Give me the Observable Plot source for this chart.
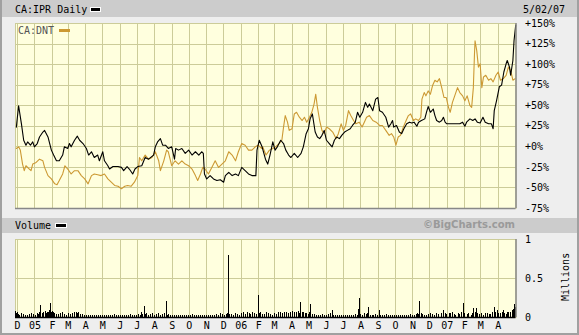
<!DOCTYPE html>
<html><head><meta charset="utf-8">
<script src="https://cdn.jsdelivr.net/npm/d3@7"></script>
<script src="https://cdn.jsdelivr.net/npm/@observablehq/plot@0.6"></script>
<style>
body{margin:0;background:#fff;}
#wrap{position:relative;width:579px;height:335px;background:#eeeeee;overflow:hidden;font-family:"DejaVu Sans Mono",monospace;font-size:10px;color:#000;}
.bar{position:absolute;background:#cccccc;}
.t{position:absolute;white-space:nowrap;line-height:1;z-index:5;}
.sw{position:absolute;z-index:5;}
#wrap svg{position:absolute;left:0;top:0;}
#edge{position:absolute;left:0;top:0;width:575px;height:333px;border-left:2px solid #a0a0a0;border-right:2px solid #a0a0a0;border-bottom:2px solid #a0a0a0;z-index:6;}
</style></head><body>
<div id="wrap">
  <div class="bar" style="left:0;top:0;width:579px;height:17px"></div>
  <div class="bar" style="left:2px;top:218px;width:575px;height:15px"></div>
  <div class="t" id="ttl" style="left:15px;top:5px"></div>
  <div class="sw" style="left:90px;top:7px;width:9px;height:3px;background:#000;border:1px solid #fff"></div>
  <div class="t" id="dateLbl" style="left:523px;top:5px"></div>
  <div class="t" id="dntLbl" style="left:18px;top:26px;color:#555"></div>
  <div class="sw" style="left:59px;top:29px;width:11px;height:3px;background:#cc9933"></div>
  <div class="t" id="volLbl" style="left:15px;top:221px"></div>
  <div class="sw" style="left:55px;top:223px;width:10px;height:3px;background:#000;border:1px solid #fff"></div>
  <div class="t" id="credit" style="right:64px;top:220px;font-family:'DejaVu Sans',sans-serif;font-weight:bold;color:#9a9a9a;font-size:10px"></div>
  <div class="t" id="mil" style="left:542px;top:272px;width:48px;text-align:center;transform:rotate(-90deg)"></div>
  <div id="edge"></div>
</div>
<script>
// ---- data (day offsets from 2004-12-01, percent change) ----
const seriesNames = ["CA:IPR Daily", "CA:DNT"];
const iprSeries = [[-2,24],[2,50],[7,28],[11,8],[15,2],[18,6],[23,2],[27,6],[30,0],[35,4],[39,12],[45,18],[48,20],[54,12],[60,-4],[64,-10],[69,-17],[74,-17],[80,-10],[83,0],[89,-2],[92,4],[95,0],[101,8],[106,13],[110,8],[116,4],[122,-2],[126,-10],[131,-6],[136,-13],[142,-10],[145,-17],[151,-6],[154,-17],[160,-23],[163,-27],[169,-24],[178,-24],[184,-25],[188,-29],[194,-24],[198,-27],[204,-33],[208,-27],[213,-24],[220,-23],[226,-13],[232,-15],[241,-10],[244,0],[248,6],[253,10],[257,2],[262,2],[267,-2],[273,0],[278,-15],[280,-2],[285,-4],[291,-2],[297,-8],[303,-4],[309,-10],[315,-6],[321,-10],[326,-6],[329,-8],[331,-33],[335,-39],[341,-35],[347,-39],[353,-41],[359,-40],[365,-43],[368,-35],[374,-31],[380,-35],[386,-33],[391,-35],[397,-25],[403,-29],[409,-33],[415,-35],[422,-35],[424,-4],[428,8],[433,0],[439,-15],[443,-21],[447,-10],[452,6],[456,-4],[460,0],[466,8],[471,4],[475,-4],[480,-10],[484,-13],[490,-8],[496,-13],[502,-8],[506,0],[511,16],[515,22],[518,34],[522,40],[527,18],[531,12],[535,10],[539,14],[543,20],[547,8],[552,4],[557,0],[561,8],[565,12],[570,10],[574,14],[579,18],[584,20],[589,22],[593,26],[598,30],[602,42],[606,36],[611,42],[616,54],[620,48],[623,52],[629,44],[634,58],[638,60],[641,44],[646,42],[652,36],[657,24],[661,28],[664,32],[666,24],[671,26],[676,18],[680,16],[684,22],[689,28],[694,30],[698,29],[702,30],[707,25],[710,30],[715,32],[721,34],[724,42],[727,49],[731,42],[736,46],[739,38],[742,32],[747,30],[751,32],[754,36],[757,30],[760,28],[766,28],[772,28],[777,28],[783,28],[788,30],[792,25],[795,30],[801,34],[806,32],[810,34],[814,30],[819,29],[824,36],[828,30],[834,28],[839,28],[842,22],[844,44],[848,56],[853,73],[857,75],[861,91],[865,101],[867,105],[871,97],[873,87],[877,105],[879,129],[882,148]];
const dntSeries = [[-2,-2],[2,0],[5,-4],[9,-21],[12,-29],[15,-23],[21,-27],[24,-29],[27,-21],[33,-19],[39,-15],[45,-17],[48,-25],[54,-35],[60,-39],[66,-45],[70,-46],[74,-41],[80,-33],[84,-23],[89,-27],[95,-33],[101,-29],[107,-29],[113,-35],[119,-39],[125,-45],[131,-35],[136,-33],[142,-34],[148,-35],[154,-33],[160,-39],[166,-43],[172,-47],[178,-48],[184,-51],[190,-48],[195,-47],[201,-48],[207,-43],[213,-35],[216,-13],[220,-17],[226,-10],[232,-15],[238,-13],[244,-6],[250,-17],[253,-29],[259,-17],[264,-4],[267,-6],[273,-23],[279,-17],[285,-21],[291,-17],[297,-21],[303,-23],[309,-27],[315,-35],[319,-41],[324,-33],[328,-25],[332,-27],[338,-33],[344,-25],[350,-17],[356,-25],[362,-21],[368,-17],[374,-6],[380,-10],[386,-17],[391,-6],[397,4],[403,2],[409,-4],[415,-4],[421,0],[426,2],[432,-2],[434,0],[440,-10],[446,-4],[452,-2],[457,0],[463,4],[468,8],[471,24],[474,38],[478,30],[481,20],[486,22],[490,40],[494,42],[499,36],[504,32],[508,36],[512,30],[517,36],[521,42],[525,52],[528,64],[531,48],[535,32],[539,20],[543,16],[547,24],[552,22],[558,18],[564,10],[568,16],[573,28],[577,20],[581,26],[586,44],[590,38],[595,32],[599,28],[605,30],[610,24],[614,30],[618,36],[623,38],[629,32],[635,30],[641,26],[646,26],[652,20],[658,14],[662,16],[666,12],[670,2],[674,12],[678,14],[683,24],[688,32],[692,38],[696,40],[701,32],[705,34],[710,32],[714,36],[716,58],[720,66],[723,62],[727,68],[731,64],[735,75],[739,81],[743,79],[747,83],[751,72],[755,60],[759,60],[763,48],[766,42],[770,54],[774,62],[779,72],[783,66],[788,62],[792,56],[796,62],[801,50],[804,48],[807,72],[809,113],[810,129],[813,117],[816,97],[819,101],[822,72],[825,85],[829,87],[834,81],[838,83],[842,79],[847,87],[851,91],[855,81],[860,83],[865,87],[869,97],[873,93],[877,81],[881,83]];
// volume in millions
const volSeries = [[-3,0.08],[-1,0.05],[0,0.06],[2,0.04],[4,0.03],[7,0.05],[11,0.04],[14,0.03],[18,0.03],[21,0.04],[25,0.05],[28,0.04],[32,0.03],[35,0.05],[37,0.04],[39,0.06],[41,0.16],[44,0.05],[46,0.06],[49,0.08],[51,0.05],[53,0.06],[55,0.07],[57,0.09],[58,0.18],[60,0.07],[62,0.08],[64,0.06],[66,0.05],[69,0.04],[73,0.04],[76,0.05],[80,0.06],[83,0.04],[87,0.03],[90,0.05],[94,0.04],[97,0.05],[101,0.06],[104,0.07],[106,0.05],[108,0.06],[111,0.04],[115,0.04],[118,0.03],[122,0.03],[125,0.02],[129,0.02],[132,0.03],[136,0.03],[140,0.02],[143,0.02],[147,0.03],[151,0.03],[154,0.02],[158,0.02],[161,0.03],[165,0.03],[168,0.02],[172,0.04],[175,0.03],[179,0.03],[182,0.02],[186,0.02],[189,0.03],[193,0.03],[196,0.02],[200,0.04],[203,0.03],[207,0.03],[210,0.02],[214,0.04],[217,0.03],[220,0.06],[222,0.04],[224,0.14],[226,0.04],[228,0.05],[232,0.03],[236,0.04],[239,0.05],[243,0.03],[246,0.04],[250,0.05],[253,0.03],[257,0.04],[260,0.05],[263,0.21],[265,0.03],[267,0.04],[271,0.02],[275,0.03],[278,0.02],[282,0.02],[285,0.03],[289,0.03],[292,0.02],[296,0.02],[299,0.03],[303,0.03],[306,0.02],[310,0.04],[313,0.03],[317,0.02],[320,0.03],[324,0.03],[327,0.02],[331,0.02],[334,0.03],[338,0.03],[341,0.02],[345,0.02],[348,0.03],[352,0.04],[356,0.03],[360,0.05],[363,0.04],[367,0.03],[370,0.04],[372,0.05],[374,0.80],[376,0.04],[379,0.04],[382,0.03],[386,0.05],[389,0.04],[393,0.03],[396,0.05],[400,0.06],[403,0.04],[407,0.07],[410,0.05],[413,0.04],[416,0.06],[420,0.05],[423,0.04],[426,0.28],[428,0.05],[430,0.06],[433,0.04],[437,0.04],[441,0.06],[445,0.05],[448,0.04],[452,0.03],[455,0.05],[459,0.04],[462,0.06],[466,0.06],[469,0.05],[473,0.07],[476,0.06],[480,0.05],[483,0.07],[487,0.08],[490,0.06],[494,0.06],[497,0.08],[499,0.05],[501,0.19],[504,0.06],[507,0.07],[509,0.05],[512,0.05],[515,0.04],[517,0.06],[519,0.17],[522,0.04],[526,0.04],[529,0.03],[533,0.03],[536,0.02],[540,0.04],[543,0.02],[547,0.03],[550,0.04],[554,0.05],[557,0.09],[560,0.03],[563,0.03],[566,0.02],[570,0.02],[573,0.03],[577,0.03],[580,0.02],[584,0.02],[588,0.03],[592,0.03],[595,0.02],[599,0.04],[602,0.03],[604,0.10],[606,0.24],[608,0.04],[611,0.03],[614,0.05],[618,0.04],[620,0.05],[622,0.13],[625,0.03],[629,0.03],[631,0.02],[634,0.04],[637,0.03],[640,0.09],[643,0.03],[646,0.02],[650,0.03],[653,0.04],[657,0.03],[661,0.02],[664,0.03],[668,0.03],[671,0.02],[675,0.02],[678,0.03],[682,0.03],[685,0.02],[689,0.02],[692,0.03],[696,0.04],[699,0.03],[703,0.03],[706,0.04],[708,0.05],[710,0.04],[712,0.21],[715,0.05],[717,0.04],[720,0.03],[724,0.03],[727,0.04],[731,0.05],[735,0.04],[739,0.03],[742,0.05],[746,0.04],[750,0.05],[754,0.09],[757,0.05],[760,0.04],[764,0.05],[767,0.05],[770,0.06],[773,0.04],[776,0.03],[780,0.05],[783,0.04],[786,0.06],[789,0.18],[792,0.05],[796,0.04],[799,0.05],[803,0.03],[805,0.05],[807,0.12],[810,0.06],[813,0.12],[815,0.05],[818,0.04],[821,0.05],[825,0.03],[828,0.05],[832,0.05],[835,0.04],[838,0.04],[841,0.06],[845,0.13],[847,0.06],[850,0.09],[852,0.05],[855,0.05],[858,0.06],[861,0.09],[863,0.05],[866,0.04],[868,0.06],[870,0.07],[873,0.06],[876,0.09],[878,0.1],[879,0.17],[880,0.11],[881,0.13]];
const pctTicks = [-75,-50,-25,0,25,50,75,100,125,150];
const volTicks = [0, 0.5, 1];
const monthLetters = ["J","F","M","A","M","J","J","A","S","O","N","D"];
const dateLabel = "5/02/07";
const creditText = "\u00a9BigCharts.com";
const volumeLabel = "Volume";
const unitLabel = "Millions";

// ---- build ----
const base = Date.UTC(2004, 11, 1);
const toDate = d => new Date(base + d * 864e5);
const ipr = iprSeries.map(([d, v]) => ({date: toDate(d), pct: v}));
const dnt = dntSeries.map(([d, v]) => ({date: toDate(d), pct: v}));
const vol = volSeries.map(([d, v]) => ({date: toDate(d), v}));
const xDomain = [new Date("2004-11-27T12:00Z"), new Date("2007-05-02T12:00Z")];
const months = d3.utcMonth.range(new Date("2004-12-01T00:00Z"), new Date("2007-04-15T00:00Z"));
const monthFmt = d => d.getUTCMonth() === 0 ? String(d.getUTCFullYear()).slice(2) : monthLetters[d.getUTCMonth()];
const grid = "#cccc99";
const style = {background: "transparent", fontFamily: "'DejaVu Sans Mono', monospace", fontSize: "10px", color: "#000", overflow: "visible"};

function addPattern(svg, id) {
  const ns = "http://www.w3.org/2000/svg";
  const defs = document.createElementNS(ns, "defs");
  const p = document.createElementNS(ns, "pattern");
  p.setAttribute("id", id); p.setAttribute("width", 2); p.setAttribute("height", 2);
  p.setAttribute("patternUnits", "userSpaceOnUse");
  const r = (x, y, w, h, f) => { const e = document.createElementNS(ns, "rect"); e.setAttribute("x", x); e.setAttribute("y", y); e.setAttribute("width", w); e.setAttribute("height", h); e.setAttribute("fill", f); p.appendChild(e); };
  r(0, 0, 2, 2, "#ffffcc"); r(0, 0, 1, 1, "#fffff0"); r(1, 1, 1, 1, "#fffff0");
  defs.appendChild(p); svg.insertBefore(defs, svg.firstChild);
}

const price = Plot.plot({
  width: 579, height: 335,
  marginTop: 23, marginBottom: 127, marginLeft: 15, marginRight: 63.5,
  style,
  x: {type: "utc", domain: xDomain, axis: null},
  y: {domain: [-75, 150], axis: "right", ticks: pctTicks, tickSize: 0, tickPadding: 9, label: null,
      tickFormat: d => (d >= 0 ? "+" : "") + d + "%"},
  marks: [
    Plot.frame({fill: "url(#chk)", stroke: grid}),
    Plot.ruleX(months, {stroke: grid, shapeRendering: "crispEdges"}),
    Plot.ruleY(pctTicks, {stroke: grid, shapeRendering: "crispEdges"}),
    Plot.line(dnt, {x: "date", y: "pct", stroke: "#cc9933", strokeWidth: 1.1}),
    Plot.line(ipr, {x: "date", y: "pct", stroke: "#000", strokeWidth: 1.1}),
    Plot.ruleY([-75], {stroke: "#888", strokeWidth: 1.5}),
    Plot.ruleX([xDomain[1]], {stroke: "#888", strokeWidth: 1.5})
  ]
});
addPattern(price, "chk");

const volume = Plot.plot({
  width: 579, height: 335,
  marginTop: 239, marginBottom: 18, marginLeft: 15, marginRight: 63.5,
  style,
  x: {type: "utc", domain: xDomain, ticks: months, tickFormat: monthFmt, tickSize: 0, tickPadding: 4, label: null},
  y: {domain: [0, 1], axis: "right", ticks: volTicks, tickSize: 0, tickPadding: 9, label: null,
      tickFormat: d => String(d)},
  marks: [
    Plot.frame({fill: "url(#chk2)", stroke: grid}),
    Plot.ruleX(months, {stroke: grid, shapeRendering: "crispEdges"}),
    Plot.ruleY([0.5], {stroke: grid, shapeRendering: "crispEdges"}),
    Plot.ruleX(vol, {x: "date", y1: 0, y2: "v", stroke: "#000", strokeWidth: 1, shapeRendering: "crispEdges"}),
    Plot.ruleY([0], {stroke: "#000", strokeWidth: 1.5}),
    Plot.ruleX([xDomain[1]], {stroke: "#888", strokeWidth: 1.5})
  ]
});
addPattern(volume, "chk2");

const wrap = document.getElementById("wrap");
wrap.insertBefore(price, document.getElementById("ttl"));
wrap.insertBefore(volume, document.getElementById("ttl"));
document.getElementById("ttl").textContent = seriesNames[0];
document.getElementById("dntLbl").textContent = seriesNames[1];
document.getElementById("dateLbl").textContent = dateLabel;
document.getElementById("volLbl").textContent = volumeLabel;
document.getElementById("credit").textContent = creditText;
document.getElementById("mil").textContent = unitLabel;
</script>
</body></html>
